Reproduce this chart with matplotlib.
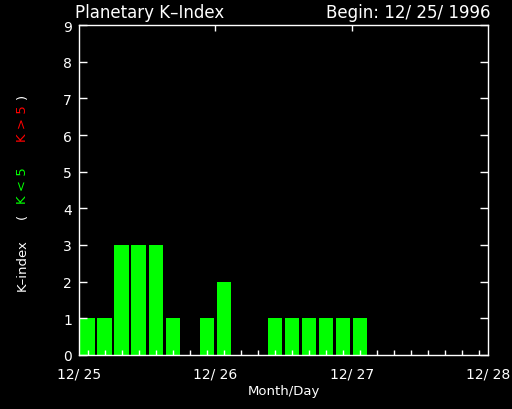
import numpy as np
import matplotlib
matplotlib.use('Agg')
import matplotlib.pyplot as plt

# kp index per 3-hour slot, starting 12/25/1996 00 UT
kp = [1, 1, 3, 3, 3, 1, 0, 1, 2, 0, 0, 1, 1, 1, 1, 1, 1]
day_labels = ['12/ 25', '12/ 26', '12/ 27', '12/ 28']
n_slots = 24

fig = plt.figure(figsize=(5.12, 4.10), dpi=100, facecolor='black')
ax = fig.add_axes([79/512, 1 - 356/410, 409/512, 330/410], facecolor='black')

# bars centred in each 3-hour slot
x = np.arange(len(kp)) + 0.5
colors = ['#00ff00' if v < 5 else '#ff0000' for v in kp]
ax.bar(x, kp, width=0.84, color=colors, zorder=1)

ax.set_xlim(0, n_slots)
ax.set_ylim(0, 9)

for s in ax.spines.values():
    s.set_color('white')
    s.set_linewidth(1.0)
    s.set_zorder(3)

# y axis ticks on both sides, pointing in
ax.set_yticks(range(10))
ax.tick_params(axis='y', which='major', direction='in', length=5.8, width=1,
               color='white', labelcolor='white', labelsize=10,
               left=True, right=True, pad=5)

# day labels at bottom, no tick marks there
ax.set_xticks(np.arange(0, n_slots + 1, 8))
ax.set_xticklabels(day_labels)
ax.tick_params(axis='x', which='major', length=0, labelcolor='white',
               labelsize=10, pad=8)
# 3-hour ticks along the bottom
ax.set_xticks(np.arange(n_slots) + 0.5, minor=True)
ax.tick_params(axis='x', which='minor', direction='in', length=3.6, width=1,
               color='white', bottom=True, top=False)

# day ticks on top
top = ax.secondary_xaxis('top')
top.set_xticks([8, 16])
top.tick_params(direction='in', length=4.3, width=1, color='white', labeltop=False)
top.spines['top'].set_visible(False)

for t in ax.get_xticklines(minor=True):
    t.set_zorder(4)

ax.set_xlabel('Month/Day', color='white', fontsize=9.5, labelpad=3)

fig.text(75/512, 1 - 13/410, 'Planetary K\u2013Index', color='white',
         fontsize=12, ha='left', va='center')
fig.text(490/512, 1 - 13/410, 'Begin: 12/ 25/ 1996', color='white',
         fontsize=12, ha='right', va='center')

# y label in pieces so each part gets its own colour
ylab = [('K\u2013index', 'white', 265),
        ('(', 'white', 216),
        ('K < 5', '#00ff00', 186),
        ('K > 5', '#ff0000', 124),
        (')', 'white', 96)]
for txt, col, ypix in ylab:
    fig.text(22/512, 1 - ypix/410, txt, color=col, fontsize=9.5,
             rotation=90, ha='center', va='center')

fig.savefig('out.png', dpi=100, facecolor='black')
